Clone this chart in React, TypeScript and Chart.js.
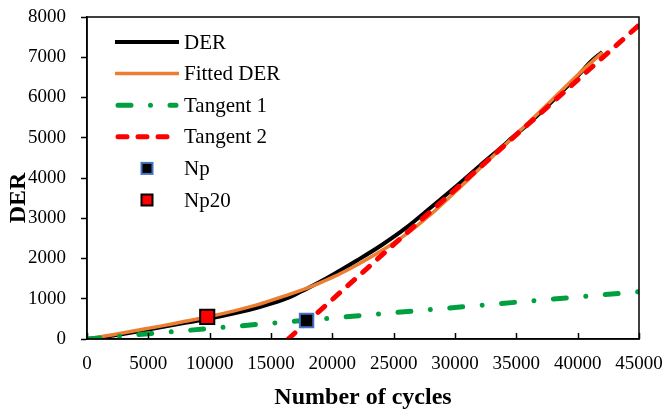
import React, { useEffect, useRef } from 'react';
import { Chart, registerables } from 'chart.js';

Chart.register(...registerables);

// ---- data ----
const derX = [0, 1000, 2000, 4000, 6000, 8000, 10000, 12000, 14000, 16000, 17000, 18000, 19000, 20000, 22000, 24000, 26000, 28000, 30000, 32000, 34000, 34500, 36000, 38000, 39500, 40200, 41000, 42000];
const derY = [0, 30, 80, 180, 290, 400, 510, 640, 790, 980, 1110, 1260, 1420, 1590, 1950, 2330, 2760, 3260, 3770, 4300, 4820, 4960, 5350, 5930, 6380, 6600, 6870, 7130];

const fitX = [0, 1000, 2000, 4000, 6000, 8000, 10000, 12000, 14000, 16000, 18000, 20000, 22000, 24000, 26000, 28000, 30000, 32000, 34000, 36000, 38000, 40000, 42000];
const fitY = [0, 50, 100, 210, 320, 440, 560, 700, 860, 1060, 1270, 1530, 1840, 2190, 2600, 3090, 3650, 4230, 4800, 5380, 5970, 6560, 7120];

const tangent1X = [0, 45000];
const tangent1Y = [0, 1175];

const tangent2X = [16400, 45000];
const tangent2Y = [0, 7800];

const npX = [17900];
const npY = [460];

const np20X = [9800];
const np20Y = [550];

const xMin = 0, xMax = 45000, xStep = 5000;
const yMin = 0, yMax = 8000, yStep = 1000;

const xTitle = 'Number of cycles';
const yTitle = 'DER';
const legendLabels = ['DER', 'Fitted DER', 'Tangent 1', 'Tangent 2', 'Np', 'Np20'];

// ---- styles ----
const SERIF = '"Liberation Serif", "Times New Roman", serif';
const BLACK = '#000000';
const ORANGE = '#ED7D31';
const GREEN = '#00A040';
const RED = '#FF0000';
const BLUE = '#4472C4';
const GREEN_DASH = [13, 19.5, 0.01, 19.5];
const RED_DASH = [9, 11];

const pts = (xs: number[], ys: number[]) => xs.map((x, i) => ({ x, y: ys[i] }));

const zeroPad = (s: any) => {
  s.paddingTop = 0;
  s.paddingBottom = 0;
  s.paddingLeft = 0;
  s.paddingRight = 0;
};

const overlayPlugin = {
  id: 'overlay',
  afterDraw(chart: any) {
    const { ctx, chartArea: a, scales } = chart;
    ctx.save();
    // frame
    ctx.strokeStyle = BLACK;
    ctx.lineWidth = 1.5;
    ctx.setLineDash([]);
    ctx.strokeRect(a.left, a.top, a.right - a.left, a.bottom - a.top);
    // inward x ticks
    ctx.lineWidth = 1.5;
    for (const t of scales.x.ticks) {
      const px = Math.round(scales.x.getPixelForValue(t.value)) + 0.5;
      ctx.beginPath();
      ctx.moveTo(px, a.bottom);
      ctx.lineTo(px, a.bottom - 6);
      ctx.stroke();
    }
    // axis titles
    ctx.fillStyle = BLACK;
    ctx.font = 'bold 24px ' + SERIF;
    ctx.textAlign = 'center';
    ctx.textBaseline = 'middle';
    ctx.fillText(xTitle, (a.left + a.right) / 2, 398);
    ctx.save();
    ctx.translate(19, 198);
    ctx.rotate(-Math.PI / 2);
    ctx.fillText(yTitle, 0, 0);
    ctx.restore();

    // legend
    const lx0 = 115, lx1 = 179, tx = 184, y0 = 42, dy = 31.6;
    ctx.font = '21px ' + SERIF;
    ctx.textAlign = 'left';
    ctx.textBaseline = 'middle';
    const lines = [
      { c: BLACK, w: 4, d: [] as number[] },
      { c: ORANGE, w: 3.5, d: [] as number[] },
      { c: GREEN, w: 5, d: GREEN_DASH },
      { c: RED, w: 5, d: RED_DASH },
    ];
    lines.forEach((l, i) => {
      const y = y0 + i * dy;
      ctx.strokeStyle = l.c;
      ctx.lineWidth = l.w;
      ctx.lineCap = l.d.length ? 'round' : 'butt';
      ctx.setLineDash(l.d);
      ctx.beginPath();
      ctx.moveTo(lx0 + (l.d.length ? 3 : 0), y);
      ctx.lineTo(lx1 - (l.d.length ? 3 : 0), y);
      ctx.stroke();
      ctx.setLineDash([]);
      ctx.fillStyle = BLACK;
      ctx.fillText(legendLabels[i], tx, y + 1);
    });
    const marks = [
      { fill: BLACK, stroke: BLUE },
      { fill: RED, stroke: BLACK },
    ];
    marks.forEach((m, j) => {
      const i = 4 + j;
      const y = y0 + i * dy;
      const cx = 147, s = 11;
      ctx.fillStyle = m.fill;
      ctx.fillRect(cx - s / 2, y - s / 2, s, s);
      ctx.strokeStyle = m.stroke;
      ctx.lineWidth = 2;
      ctx.strokeRect(cx - s / 2, y - s / 2, s, s);
      ctx.fillStyle = BLACK;
      ctx.fillText(legendLabels[i], tx, y + 1);
    });
    ctx.restore();
  },
};

export default function App() {
  const ref = useRef<HTMLCanvasElement | null>(null);
  useEffect(() => {
    if (!ref.current) return;
    const chart = new Chart(ref.current, {
      type: 'scatter',
      data: {
        datasets: [
          {
            label: legendLabels[4],
            data: pts(npX, npY),
            pointStyle: 'rect',
            pointRadius: 9.5,
            backgroundColor: BLACK,
            borderColor: BLUE,
            borderWidth: 2,
            showLine: false,
            order: 0,
          } as any,
          {
            label: legendLabels[5],
            data: pts(np20X, np20Y),
            pointStyle: 'rect',
            pointRadius: 10,
            backgroundColor: RED,
            borderColor: BLACK,
            borderWidth: 2,
            showLine: false,
            order: 0,
          },
          {
            label: legendLabels[3],
            data: pts(tangent2X, tangent2Y),
            showLine: true,
            borderColor: RED,
            borderWidth: 5,
            borderDash: RED_DASH,
            borderCapStyle: 'round',
            pointRadius: 0,
            order: 1,
          },
          {
            label: legendLabels[2],
            data: pts(tangent1X, tangent1Y),
            showLine: true,
            borderColor: GREEN,
            borderWidth: 5,
            borderDash: GREEN_DASH,
            borderCapStyle: 'round',
            pointRadius: 0,
            order: 2,
          },
          {
            label: legendLabels[1],
            data: pts(fitX, fitY),
            showLine: true,
            borderColor: ORANGE,
            borderWidth: 3.5,
            cubicInterpolationMode: 'monotone',
            pointRadius: 0,
            order: 3,
          },
          {
            label: legendLabels[0],
            data: pts(derX, derY),
            showLine: true,
            borderColor: BLACK,
            borderWidth: 4,
            cubicInterpolationMode: 'monotone',
            pointRadius: 0,
            order: 4,
          },
        ],
      },
      options: {
        responsive: false,
        animation: false,
        layout: { padding: { top: 17, right: 27, left: 0, bottom: 0 } },
        plugins: {
          legend: { display: false },
          tooltip: { enabled: false },
        },
        scales: {
          x: {
            type: 'linear',
            min: xMin,
            max: xMax,
            afterFit: (s: any) => { s.height = 77; zeroPad(s); },
            ticks: {
              stepSize: xStep,
              color: BLACK,
              font: { family: SERIF, size: 19 },
              padding: 14,
              maxRotation: 0,
              callback: (v: any) => String(v),
            },
            grid: { display: true, drawOnChartArea: false, drawTicks: false },
            border: { display: true, color: BLACK, width: 1.5 },
          },
          y: {
            type: 'linear',
            min: yMin,
            max: yMax,
            afterFit: (s: any) => { s.width = 87; zeroPad(s); },
            ticks: {
              stepSize: yStep,
              color: BLACK,
              font: { family: SERIF, size: 19 },
              padding: 15,
              callback: (v: any) => String(v),
            },
            grid: { display: true, drawOnChartArea: false, drawTicks: true, tickLength: 6, color: BLACK, tickWidth: 1.5 },
            border: { display: true, color: BLACK, width: 1.5 },
          },
        },
      },
      plugins: [overlayPlugin],
    } as any);
    return () => chart.destroy();
  }, []);
  return (
    <div style={{ position: 'absolute', left: 0, top: 0, width: 666, height: 416, background: '#fff' }}>
      <canvas ref={ref} width={666} height={416} style={{ width: 666, height: 416 }} />
    </div>
  );
}
